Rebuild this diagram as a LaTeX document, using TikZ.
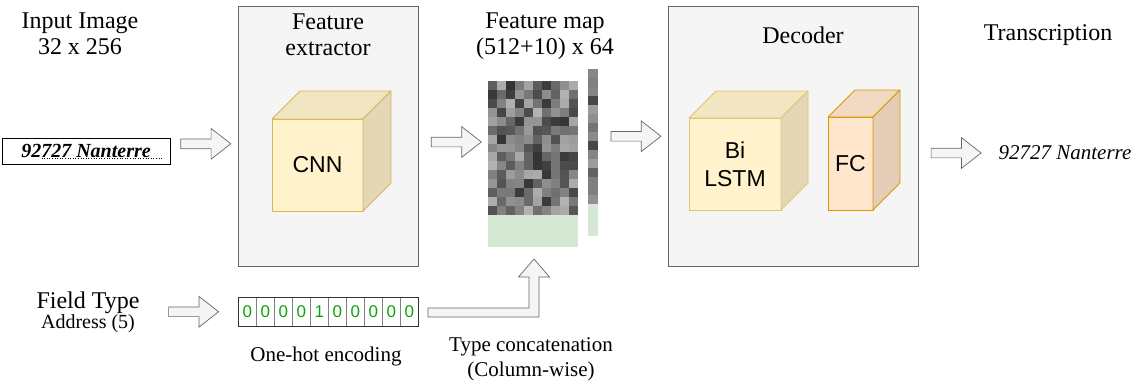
\documentclass[tikz,border=0pt]{standalone}
\usepackage{fontspec}
\setmainfont{Liberation Serif}
\setsansfont{Liberation Sans}
\usepackage{tikz}
\usetikzlibrary{positioning,calc,shapes.arrows}
\definecolor{panelgray}{HTML}{F5F5F5}
\definecolor{panelline}{HTML}{666666}
\definecolor{cubefill}{HTML}{FFF2CC}
\definecolor{cubeline}{HTML}{D6B656}
\definecolor{fcfill}{HTML}{FFE6CC}
\definecolor{fcline}{HTML}{D79B00}
\definecolor{padgreen}{HTML}{D5E8D4}
\definecolor{bitgreen}{HTML}{11A011}

% top and side faces of a cube whose front face is node #1
\newcommand{\cubefaces}[4]{%
  \filldraw[draw=#4,fill=#3!95!black,line width=0.8pt,line join=round]
    (#1.north west) -- ($(#1.north west)+(#2,-#2)$) -- ($(#1.north east)+(#2,-#2)$) -- (#1.north east) -- cycle;
  \filldraw[draw=#4,fill=#3!89!black,line width=0.8pt,line join=round]
    (#1.north east) -- ($(#1.north east)+(#2,-#2)$) -- ($(#1.south east)+(#2,-#2)$) -- (#1.south east) -- cycle;
}

\begin{document}
\begin{tikzpicture}[x=1pt,y=-1pt,
  panel/.style={draw=panelline,fill=panelgray,line width=0.8pt},
  cubefront/.style={draw=#1,line width=0.8pt,outer sep=0pt,inner sep=0pt,align=center,font=\sffamily\fontsize{23}{28}\selectfont},
  title/.style={align=center,font=\fontsize{24}{26}\selectfont},
  sublabel/.style={align=center,font=\fontsize{21}{25}\selectfont},
  blockarrow/.style={single arrow,draw=panelline,fill=panelgray,line width=0.7pt,inner sep=4.5pt,minimum height=50pt,minimum width=29pt,single arrow head extend=10.5pt,single arrow tip angle=76},
  bit/.style={draw=gray,line width=0.6pt,minimum width=18pt,minimum height=29pt,inner sep=0pt,text=bitgreen,font=\sffamily\fontsize{17}{17}\selectfont}]
\useasboundingbox (0,0) rectangle (1143,391);

% panels
\node[panel,minimum width=180pt,minimum height=260pt] (fe) at (328,136) {};
\node[panel,minimum width=250pt,minimum height=260pt] (dec) at (793,136) {};

% titles
\node[title] (inlab) at (80,34) {Input Image\\32 x 256};
\node[title] (felab) at (328,35) {Feature\\extractor};
\node[title] (fmlab) at (545,36) {Feature map\\(512+10) x 64};
\node[title] (declab) at (803,35) {Decoder};
\node[title] (trlab) at (1048,35) {Transcription};

% input image
\node[draw=black,line width=0.9pt,minimum width=168pt,minimum height=26pt,inner sep=0pt,font=\itshape\bfseries\fontsize{20}{20}\selectfont] (img) at (86,151) {92727 Nanterre};
\draw[dotted,line width=0.6pt] ($(img.south west)+(40,-6)$) -- ($(img.south east)+(-8,-6)$);

% cubes
\node[cubefront=cubeline,fill=cubefill,minimum width=91pt,minimum height=92pt] (cnn) at (317.5,165) {CNN};
\cubefaces{cnn}{28}{cubefill}{cubeline}
\node[cubefront=cubeline!80,fill=cubefill,minimum width=92pt,minimum height=92pt] (lstm) at (735,164) {Bi\\LSTM};
\cubefaces{lstm}{27}{cubefill}{cubeline!80}
\node[cubefront=fcline,fill=fcfill,minimum width=45pt,minimum height=93pt] (fc) at (850.5,163.5) {FC};
\cubefaces{fc}{27}{fcfill}{fcline}

% feature map
\node[minimum width=90pt,minimum height=134pt,inner sep=0pt,outer sep=0pt] (fmap) at (533,148) {};
\pgfmathsetseed{31}
\foreach \r in {0,...,14}
  \foreach \c in {0,...,9} {
    \pgfmathrandominteger{\g}{30}{80}
    \fill[black!\g] ($(fmap.north west)+(\c*9,\r*8.933)$) rectangle ++(9,8.933);
  }
\node[fill=padgreen,minimum width=90pt,minimum height=32pt,inner sep=0pt,outer sep=0pt,below=0pt of fmap] (fpad) {};
\node[minimum width=10pt,minimum height=135pt,inner sep=0pt,outer sep=0pt] (fcol) at (593,136.5) {};
\foreach \r in {0,...,14} {
    \pgfmathrandominteger{\g}{35}{72}
    \fill[black!\g] ($(fcol.north west)+(0,\r*9)$) rectangle ++(10,9);
  }
\node[fill=padgreen,minimum width=10pt,minimum height=32pt,inner sep=0pt,outer sep=0pt,below=0pt of fcol] (fcolpad) {};

% output
\node[font=\itshape\fontsize{21}{21}\selectfont] (out) at (1065,153) {92727 Nanterre};

% field type and one-hot vector
\node[align=center] (ftype) at (88,312) {{\fontsize{24}{26}\selectfont Field Type}\\{\fontsize{20}{22}\selectfont Address (5)}};
\node[minimum width=180pt,minimum height=29pt,inner sep=0pt,outer sep=0pt] (oh) at (328,311.5) {};
\foreach \b [count=\i from 0] in {0,0,0,0,1,0,0,0,0,0}
  \node[bit,anchor=west] (b\i) at ($(oh.west)+(\i*18,0)$) {\b};
\draw[line width=0.9pt,draw=black!80] (oh.north west) rectangle (oh.south east);
\node[sublabel] (ohlab) at (326,356) {One-hot encoding};
\node[sublabel] (catlab) at (531,359) {Type concatenation\\(Column-wise)};

% block arrows
\node[blockarrow] (a1) at ($(img.east)!0.48!(fe.west)$) {};
\node[blockarrow] (a2) at ($(fe.east)!0.5!(fmap.west)$) {};
\node[blockarrow] (a3) at ($(fcol.east)!0.5!(dec.west)$) {};
\node[blockarrow] (a4) at (953,153) {};
\node[blockarrow] (a5) at ($(ftype.east)!0.5!(oh.west)$) {};

% bent arrow into the padding
\coordinate (bs) at ($(oh.east)+(10,1)$);
\coordinate (tip) at ($(fpad.south)+(1,12)$);
\filldraw[draw=panelline,fill=panelgray,line width=0.7pt,line join=miter]
  ($(bs)+(0,-4.5)$) -- ($(tip|-bs)+(-5,-4.5)$) -- ($(tip)+(-5,18)$) -- ($(tip)+(-15.5,18)$) -- (tip)
  -- ($(tip)+(15.5,18)$) -- ($(tip)+(5,18)$) -- ($(tip|-bs)+(5,4.5)$) -- ($(bs)+(0,4.5)$) -- cycle;
\end{tikzpicture}
\end{document}
